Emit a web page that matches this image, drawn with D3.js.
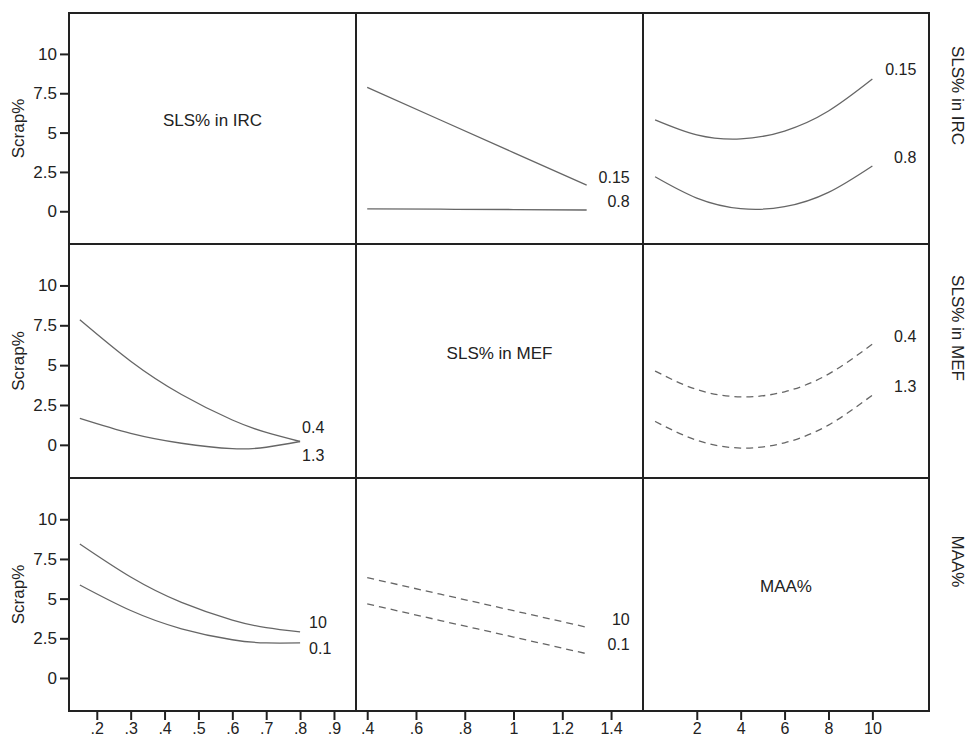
<!DOCTYPE html>
<html>
<head>
<meta charset="utf-8">
<script src="https://cdn.jsdelivr.net/npm/d3@7"></script>
<style>
  html, body { margin: 0; padding: 0; background: #fff; }
  svg { display: block; font-family: "Liberation Sans", Arial, sans-serif; }
</style>
</head>
<body>
<svg id="chart" width="971" height="739"></svg>
<script>
// ---- data ----
const variables = ["SLS% in IRC", "SLS% in MEF", "MAA%"];
const yTicks = [0, 2.5, 5, 7.5, 10];
const ircTicks = [0.2, 0.3, 0.4, 0.5, 0.6, 0.7, 0.8, 0.9];
const mefTicks = [0.4, 0.6, 0.8, 1, 1.2, 1.4];
const maaTicks = [2, 4, 6, 8, 10];

const ircX = [0.15, 0.3, 0.45, 0.6, 0.7, 0.8];
const mefX = [0.4, 0.7, 1.0, 1.3];
const maaX = [0.1, 2, 4, 6, 8, 10];

// row 1: traces at SLS% in IRC levels
const mef_irc015 = [7.87, 5.80, 3.73, 1.66];
const mef_irc08  = [0.15, 0.13, 0.11, 0.08];
const maa_irc015 = [5.81, 4.86, 4.60, 5.10, 6.37, 8.40];
const maa_irc08  = [2.19, 0.84, 0.17, 0.29, 1.20, 2.88];
// row 2: traces at SLS% in MEF levels
const irc_mef04 = [7.85, 5.25, 3.16, 1.56, 0.78, 0.21];
const irc_mef13 = [1.66, 0.72, 0.10, -0.24, -0.15, 0.21];
const maa_mef04 = [4.63, 3.47, 3.01, 3.33, 4.44, 6.32];
const maa_mef13 = [1.47, 0.29, -0.20, 0.13, 1.24, 3.12];
// row 3: traces at MAA% levels
const irc_maa10 = [8.44, 6.36, 4.76, 3.65, 3.17, 2.90];
const irc_maa01 = [5.86, 4.25, 3.10, 2.41, 2.21, 2.21];
const mef_maa10 = [6.32, 5.28, 4.24, 3.20];
const mef_maa01 = [4.67, 3.62, 2.58, 1.53];

// ---- layout ----
const svg = d3.select("#chart");
const colX = [69, 356, 643, 929];
const rowY = [13, 244, 478, 711];
const ink = "#222";
const curveColor = "#666";

const xDomains = [[0.118, 0.965], [0.354, 1.531], [-0.45, 12.58]];
const xScales = xDomains.map((d, i) => d3.scaleLinear().domain(d).range([colX[i], colX[i + 1]]));
const yScales = [0, 1, 2].map(r => d3.scaleLinear().domain([-2.08, 12.6]).range([rowY[r + 1], rowY[r]]));
const xValues = [ircX, mefX, maaX];

const panels = [
  { r: 0, c: 1, dashed: false, anchor: "end", dx: 43,
    series: [{ v: mef_irc015, lab: "0.15", ly: 2.17 }, { v: mef_irc08, lab: "0.8", ly: 0.65 }] },
  { r: 0, c: 2, dashed: false, anchor: "end", dx: 44,
    series: [{ v: maa_irc015, lab: "0.15", ly: 9.0 }, { v: maa_irc08, lab: "0.8", ly: 3.43 }] },
  { r: 1, c: 0, dashed: false, anchor: "start", dx: 2,
    series: [{ v: irc_mef04, lab: "0.4", ly: 1.07 }, { v: irc_mef13, lab: "1.3", ly: -0.69 }] },
  { r: 1, c: 2, dashed: true, anchor: "end", dx: 44,
    series: [{ v: maa_mef04, lab: "0.4", ly: 6.82 }, { v: maa_mef13, lab: "1.3", ly: 3.66 }] },
  { r: 2, c: 0, dashed: false, anchor: "start", dx: 9,
    series: [{ v: irc_maa10, lab: "10", ly: 3.49 }, { v: irc_maa01, lab: "0.1", ly: 1.85 }] },
  { r: 2, c: 1, dashed: true, anchor: "end", dx: 43,
    series: [{ v: mef_maa10, lab: "10", ly: 3.68 }, { v: mef_maa01, lab: "0.1", ly: 2.1 }] }
];

panels.forEach(p => {
  const xs = xValues[p.c], x = xScales[p.c], y = yScales[p.r];
  const line = d3.line().x((d, i) => x(xs[i])).y(d => y(d)).curve(d3.curveNatural);
  p.series.forEach(s => {
    svg.append("path")
      .attr("d", line(s.v))
      .attr("fill", "none")
      .attr("stroke", curveColor)
      .attr("stroke-width", 1.3)
      .attr("stroke-dasharray", p.dashed ? "7,5" : null);
    svg.append("text")
      .attr("x", x(xs[xs.length - 1]) + p.dx)
      .attr("y", y(s.ly))
      .attr("dy", "0.35em")
      .attr("text-anchor", p.anchor)
      .attr("font-size", 16)
      .attr("fill", ink)
      .text(s.lab);
  });
});

variables.forEach((v, i) => {
  svg.append("text")
    .attr("x", (colX[i] + colX[i + 1]) / 2)
    .attr("y", (rowY[i] + rowY[i + 1]) / 2 - 8)
    .attr("dy", "0.35em")
    .attr("text-anchor", "middle")
    .attr("font-size", 17)
    .attr("fill", ink)
    .text(v);
});

for (let r = 0; r < 3; r++) {
  for (let c = 0; c < 3; c++) {
    svg.append("rect")
      .attr("x", colX[c]).attr("y", rowY[r])
      .attr("width", colX[c + 1] - colX[c])
      .attr("height", rowY[r + 1] - rowY[r])
      .attr("fill", "none")
      .attr("stroke", ink)
      .attr("stroke-width", 2);
  }
}

for (let r = 0; r < 3; r++) {
  const g = svg.append("g")
    .attr("transform", `translate(${colX[0]},0)`)
    .call(d3.axisLeft(yScales[r]).tickValues(yTicks).tickFormat(d => String(d)).tickSize(9).tickPadding(3));
  g.select(".domain").remove();
  g.selectAll(".tick line").attr("stroke", ink).attr("stroke-width", 2);
  g.selectAll(".tick text").attr("font-size", 17).attr("fill", ink).attr("font-family", "Liberation Sans, Arial, sans-serif");

  svg.append("text")
    .attr("transform", `translate(18,${(rowY[r] + rowY[r + 1]) / 2}) rotate(-90)`)
    .attr("dy", "0.35em")
    .attr("text-anchor", "middle")
    .attr("font-size", 17)
    .attr("fill", ink)
    .text("Scrap%");

  svg.append("text")
    .attr("transform", `translate(958,${(rowY[r] + rowY[r + 1]) / 2 - 33}) rotate(90)`)
    .attr("dy", "0.35em")
    .attr("text-anchor", "middle")
    .attr("font-size", 17)
    .attr("fill", ink)
    .text(variables[r]);
}

const fmtDec = d => d3.format("~g")(d).replace(/^0\./, ".");
const xTickSets = [ircTicks, mefTicks, maaTicks];
for (let c = 0; c < 3; c++) {
  const g = svg.append("g")
    .attr("transform", `translate(0,${rowY[3]})`)
    .call(d3.axisBottom(xScales[c]).tickValues(xTickSets[c]).tickFormat(fmtDec).tickSize(9).tickPadding(3));
  g.select(".domain").remove();
  g.selectAll(".tick line").attr("stroke", ink).attr("stroke-width", 2);
  g.selectAll(".tick text").attr("font-size", 16).attr("fill", ink).attr("font-family", "Liberation Sans, Arial, sans-serif");
}
</script>
</body>
</html>
